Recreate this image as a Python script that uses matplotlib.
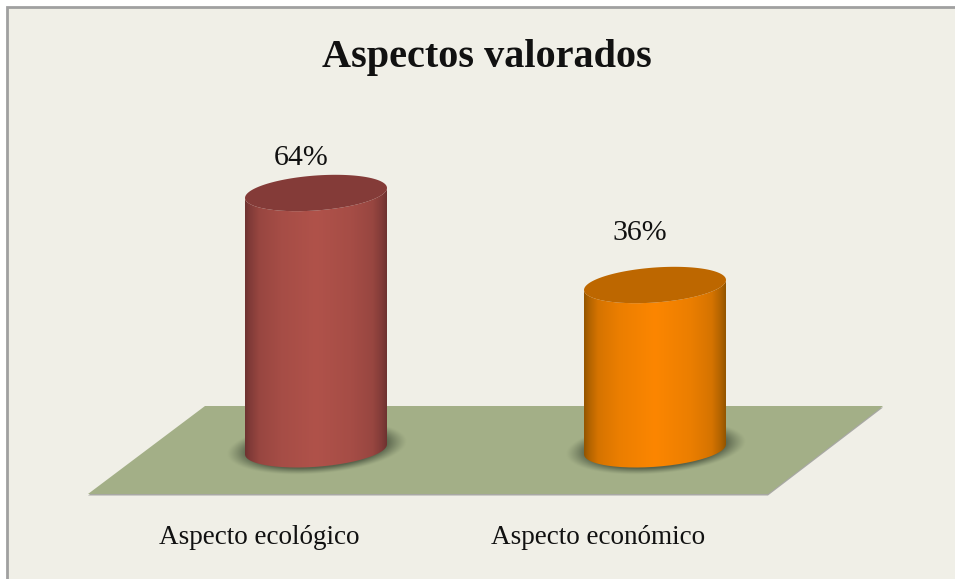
"""Aspectos valorados: two pseudo-3D cylinders standing on a floor."""

import matplotlib

matplotlib.use("Agg")
import matplotlib.pyplot as plt
import numpy as np
from matplotlib.patches import PathPatch, Polygon, Rectangle
from matplotlib.path import Path

TITLE = "Aspectos valorados"
categories = ["Aspecto ecológico", "Aspecto económico"]
values = [64, 36]
value_labels = ["64%", "36%"]

body_edge = ["#602b2b", "#7d4a00"]
body_mid = ["#b0524a", "#fc8600"]
top_colors = ["#843b38", "#bd6700"]

BACKGROUND = "#f0efe7"
FLOOR = "#a3af87"
W, H = 955, 579

# pixel layout of the original picture
X0_PX, DX_PX = 316, 339
Y0_PX, PX_PER_UNIT = 403.3, 3.286
HALF_W = 71 / DX_PX
RY = 17.5 / PX_PER_UNIT
TILT = 5.0 / PX_PER_UNIT
BASE_DROP = 14.0
LABEL_LIFT = [10.6, 15.7]

plt.rcParams["font.family"] = ["Liberation Serif", "DejaVu Serif"]


def to_x(px):
    return (px - X0_PX) / DX_PX


def to_y(py):
    return (Y0_PX - py) / PX_PER_UNIT


def ellipse_xy(xc, yc, t):
    return xc + HALF_W * np.cos(t), yc + RY * np.sin(t) + TILT * np.cos(t)


def gradient_image(edge, mid):
    edge = np.array(matplotlib.colors.to_rgb(edge))
    mid = np.array(matplotlib.colors.to_rgb(mid))
    u = np.linspace(-1, 1, 200)
    weight = np.interp(np.abs(u), [0, 0.5, 0.8, 0.93, 1.0], [1.0, 0.87, 0.7, 0.42, 0.18])
    return (edge + (mid - edge) * weight[:, None])[None, :, :]


def draw_shadow(ax, xc, yc):
    xs = np.linspace(xc - 1.6 * HALF_W, xc + 1.6 * HALF_W, 180)
    ys = np.linspace(yc - 45 / PX_PER_UNIT, yc + 45 / PX_PER_UNIT, 140)
    gx, gy = np.meshgrid(xs, ys)
    du = (gx - xc - 1.0 / DX_PX) / HALF_W
    dv = (gy - yc - 1.0 / PX_PER_UNIT - TILT * du) / (RY * 1.18)
    dist = np.sqrt(du**2 + dv**2)
    img = np.zeros(gx.shape + (4,))
    img[..., :3] = matplotlib.colors.to_rgb("#4f5a44")
    img[..., 3] = 0.9 * np.clip((1.27 - dist) / 0.3, 0, 1) ** 1.2
    ax.imshow(img, extent=(xs[0], xs[-1], ys[0], ys[-1]), origin="lower",
              aspect="auto", zorder=3, interpolation="bilinear")


def draw_cylinder(ax, idx, value):
    top_y = value
    base_y = -BASE_DROP
    draw_shadow(ax, idx, base_y)

    t_low = np.linspace(np.pi, 2 * np.pi, 80)
    bx, by = ellipse_xy(idx, base_y, t_low)
    tx, ty = ellipse_xy(idx, top_y, t_low[::-1])
    body = Path(np.column_stack([np.r_[bx, tx], np.r_[by, ty]]))
    patch = PathPatch(body, facecolor="none", edgecolor="none", transform=ax.transData)
    ax.add_patch(patch)
    im = ax.imshow(gradient_image(body_edge[idx], body_mid[idx]),
                   extent=(idx - HALF_W, idx + HALF_W, base_y - 2 * RY, top_y + 2 * RY),
                   aspect="auto", zorder=4, interpolation="bilinear")
    im.set_clip_path(patch)

    t = np.linspace(0, 2 * np.pi, 160)
    ex, ey = ellipse_xy(idx, top_y, t)
    ax.add_patch(Polygon(np.column_stack([ex, ey]), closed=True, facecolor=top_colors[idx],
                         edgecolor="none", zorder=5))

    ax.text(idx - 15 / DX_PX, top_y + LABEL_LIFT[idx], value_labels[idx], ha="center",
            va="center", fontsize=21.5, color="#111111", zorder=6)
    ax.text(idx - 57 / DX_PX, to_y(538), categories[idx], ha="center", va="center",
            fontsize=19.5, color="#111111", zorder=6)


def main():
    fig = plt.figure(figsize=(W / 100, H / 100), dpi=100, facecolor="white")
    ax = fig.add_axes([0, 0, 1, 1])
    ax.axis("off")

    ax.add_patch(Rectangle((to_x(7), to_y(H + 5)), to_x(W + 5) - to_x(7), to_y(7) - to_y(H + 5),
                           facecolor=BACKGROUND, edgecolor="#a0a0a0", linewidth=2, zorder=0))

    floor_px = [(88, 494), (768, 494), (883, 406), (205, 406)]
    floor = [(to_x(a), to_y(b)) for a, b in floor_px]
    shifted = [(to_x(a), to_y(b + 1.5)) for a, b in floor_px]
    ax.add_patch(Polygon(shifted, closed=True, facecolor="#a8a8a4", edgecolor="none", zorder=1))
    ax.add_patch(Polygon(floor, closed=True, facecolor=FLOOR, edgecolor="none", zorder=2))

    for idx, value in enumerate(values):
        draw_cylinder(ax, idx, value)

    ax.text(to_x(487), to_y(58), TITLE, ha="center", va="center", fontsize=29,
            fontweight="bold", color="#111111", zorder=6)

    ax.set_xlim(to_x(0), to_x(W))
    ax.set_ylim(to_y(H), to_y(0))
    fig.savefig("out.png", dpi=100, facecolor="white")
    plt.close(fig)


if __name__ == "__main__":
    main()
